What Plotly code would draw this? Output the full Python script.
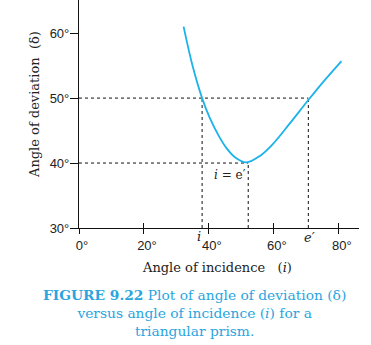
import plotly.graph_objects as go

# Data
incidence = [32.2, 34.9, 37.9, 40.3, 42.9, 45.4, 48.0, 51.5, 55.7, 59.8, 64.9, 70.6, 75.2, 80.8]
deviation = [61.0, 55.1, 50.0, 46.9, 44.3, 42.3, 40.9, 40.1, 41.1, 43.0, 46.1, 49.7, 52.5, 55.7]

x_ticks = [0, 20, 40, 60, 80]
x_ticklabels = ["0°", "20°", "40°", "60°", "80°"]
y_ticks = [30, 40, 50, 60]
y_ticklabels = ["30°", "40°", "50°", "60°"]

i_val = 37.9      # angle of incidence giving delta = 50
e_val = 70.6      # angle of emergence
i_min = 52.1      # i = e' at minimum deviation
delta_equal = 50
delta_min = 40

x_range = [0, 86.2]
y_range = [30, 65.1]

curve_color = "#1cb2ea"
caption_color = "#2aa5de"
serif = "DejaVu Serif"
sans = "Liberation Sans"

fig = go.Figure()

dash_style = dict(color="#111", width=1, dash="3px,3px")
fig.add_trace(go.Scatter(x=[x_range[0], e_val], y=[delta_equal, delta_equal], mode="lines",
                         line=dash_style, hoverinfo="skip", showlegend=False))
fig.add_trace(go.Scatter(x=[x_range[0], i_min], y=[delta_min, delta_min], mode="lines",
                         line=dash_style, hoverinfo="skip", showlegend=False))
for xv, yv in [(i_val, delta_equal), (e_val, delta_equal), (i_min, delta_min)]:
    fig.add_trace(go.Scatter(x=[xv, xv], y=[y_range[0], yv], mode="lines",
                             line=dash_style, hoverinfo="skip", showlegend=False))

fig.add_trace(go.Scatter(x=incidence, y=deviation, mode="lines",
                         line=dict(color=curve_color, width=1.8, shape="spline", smoothing=1.0),
                         showlegend=False))

# dummy trace for the inside-tick overlay axis
fig.add_trace(go.Scatter(x=[], y=[], xaxis="x2", showlegend=False))

fig.update_layout(
    width=371, height=345,
    margin=dict(l=79, r=12, t=0, b=117),
    paper_bgcolor="white", plot_bgcolor="white",
    xaxis=dict(range=x_range, tickvals=x_ticks, ticktext=x_ticklabels,
               showgrid=False, zeroline=False, showline=True, linecolor="#111", linewidth=1.2,
               ticks="outside", ticklen=5, tickcolor="#111", tickwidth=1,
               ticklabelshift=3,
               tickfont=dict(family=sans, size=13, color="#222")),
    xaxis2=dict(range=x_range, overlaying="x", tickvals=x_ticks, showticklabels=False,
                showgrid=False, zeroline=False, showline=False, side="bottom",
                ticks="inside", ticklen=5, tickcolor="#111", tickwidth=1),
    yaxis=dict(range=y_range, tickvals=y_ticks, ticktext=y_ticklabels,
               showgrid=False, zeroline=False, showline=True, linecolor="#111", linewidth=1.2,
               ticks="outside", ticklen=8, tickcolor="#111", tickwidth=1,
               ticklabelstandoff=-2,
               tickfont=dict(family=sans, size=13, color="#222")),
)


def px_to_paper_y(py):
    return (228 - py) / 228.0


def px_to_paper_x(px):
    return (px - 79) / 280.0


def ann(**kw):
    kw.setdefault("showarrow", False)
    kw.setdefault("xanchor", "center")
    kw.setdefault("yanchor", "middle")
    fig.add_annotation(**kw)


ann(text="Angle of deviation  (δ)", textangle=-90,
    x=px_to_paper_x(34), y=px_to_paper_y(105), xref="paper", yref="paper",
    font=dict(family=serif, size=13, color="#222"))
ann(text="Angle of incidence   (<i>i</i>)",
    x=px_to_paper_x(217), y=px_to_paper_y(267), xref="paper", yref="paper",
    font=dict(family=serif, size=13, color="#222"))
ann(text="<i>i</i>", x=i_val - 0.9, y=px_to_paper_y(236), xref="x", yref="paper",
    font=dict(family=serif, size=13, color="#222"))
ann(text="<i>e′</i>", x=e_val + 0.5, y=px_to_paper_y(237), xref="x", yref="paper",
    font=dict(family=serif, size=13, color="#222"))
ann(text="<i>i</i> = e′", x=46.5, y=38.2, xref="x", yref="y",
    font=dict(family=serif, size=12, color="#222"))

caption = ("<b>FIGURE 9.22</b> Plot of angle of deviation (δ)<br>"
           "versus angle of incidence (<i>i</i>) for a<br>triangular prism.")
ann(text=caption, x=px_to_paper_x(194), y=px_to_paper_y(313), xref="paper", yref="paper",
    align="center", font=dict(family=serif, size=13.8, color=caption_color))

fig.write_html("out.html")
